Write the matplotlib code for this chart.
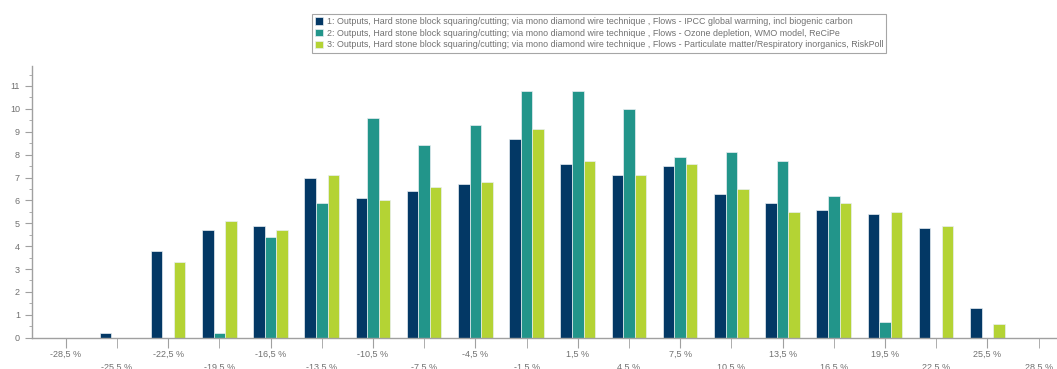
import matplotlib
matplotlib.use('Agg')
import matplotlib.pyplot as plt
from matplotlib.ticker import MultipleLocator
import numpy as np

plt.rcParams['font.family'] = ['Liberation Sans', 'DejaVu Sans']

# bins (relative deviation), comma as decimal separator like the original
bins = [-28.5, -25.5, -22.5, -19.5, -16.5, -13.5, -10.5, -7.5, -4.5, -1.5,
        1.5, 4.5, 7.5, 10.5, 13.5, 16.5, 19.5, 22.5, 25.5, 28.5]
tick_labels = [('%.1f %%' % b).replace('.', ',') for b in bins]

ipcc = [0, 0.2, 3.8, 4.7, 4.9, 7.0, 6.1, 6.4, 6.7, 8.7,
        7.6, 7.1, 7.5, 6.3, 5.9, 5.6, 5.4, 4.8, 1.3, 0]
ozone = [0, 0, 0, 0.2, 4.4, 5.9, 9.6, 8.4, 9.3, 10.8,
         10.8, 10.0, 7.9, 8.1, 7.7, 6.2, 0.7, 0, 0, 0]
pm = [0, 0, 3.3, 5.1, 4.7, 7.1, 6.0, 6.6, 6.8, 9.1,
      7.7, 7.1, 7.6, 6.5, 5.5, 5.9, 5.5, 4.9, 0.6, 0]

names = [
    '1: Outputs, Hard stone block squaring/cutting; via mono diamond wire technique , Flows - IPCC global warming, incl biogenic carbon',
    '2: Outputs, Hard stone block squaring/cutting; via mono diamond wire technique , Flows - Ozone depletion, WMO model, ReCiPe',
    '3: Outputs, Hard stone block squaring/cutting; via mono diamond wire technique , Flows - Particulate matter/Respiratory inorganics, RiskPoll',
]
colors = ['#033865', '#22958a', '#b4d334']

fig = plt.figure(figsize=(10.57, 3.69), dpi=100)
ax = fig.add_axes([0.0306, 0.0848, 0.9694, 0.7362])

x = np.arange(len(bins))
w = 0.225
handles = []
for k, (vals, c) in enumerate(zip([ipcc, ozone, pm], colors)):
    v = np.array(vals, dtype=float)
    h = ax.bar(x + (k - 1) * w, v, width=w, color=c, edgecolor='#e8eef2',
               linewidth=0.5)
    handles.append(h)

ax.set_xlim(-0.653, 19.36)
ax.set_ylim(0, 11.87)

grey = '#a0a0a0'
for s in ['top', 'right']:
    ax.spines[s].set_visible(False)
for s in ['left', 'bottom']:
    ax.spines[s].set_color(grey)
    ax.spines[s].set_linewidth(1)

ax.yaxis.set_major_locator(MultipleLocator(1))
ax.yaxis.set_minor_locator(MultipleLocator(0.5))
ax.tick_params(axis='y', which='major', length=5, color=grey, labelsize=6.5,
               labelcolor='#707070', pad=4)
ax.tick_params(axis='y', which='minor', length=2.5, color=grey)

ax.set_xticks(x[::2])
ax.set_xticklabels(tick_labels[::2])
ax.set_xticks(x[1::2], minor=True)
ax.set_xticklabels(tick_labels[1::2], minor=True)
ax.tick_params(axis='x', which='both', length=7.5, color=grey, labelsize=6.5,
               labelcolor='#707070')
ax.tick_params(axis='x', which='major', pad=1.5)
ax.tick_params(axis='x', which='minor', pad=10.5)

leg = fig.legend(handles, names, loc='upper center', bbox_to_anchor=(0.567, 0.962),
                 ncol=1, fontsize=6.4, frameon=True, fancybox=False,
                 handlelength=0.9, handleheight=0.9, handletextpad=0.4,
                 labelspacing=0.3, borderpad=0.35, borderaxespad=0)
leg.get_frame().set_edgecolor('#909090')
leg.get_frame().set_linewidth(0.8)
for t in leg.get_texts():
    t.set_color('#707070')

fig.savefig('out.png', dpi=100)
